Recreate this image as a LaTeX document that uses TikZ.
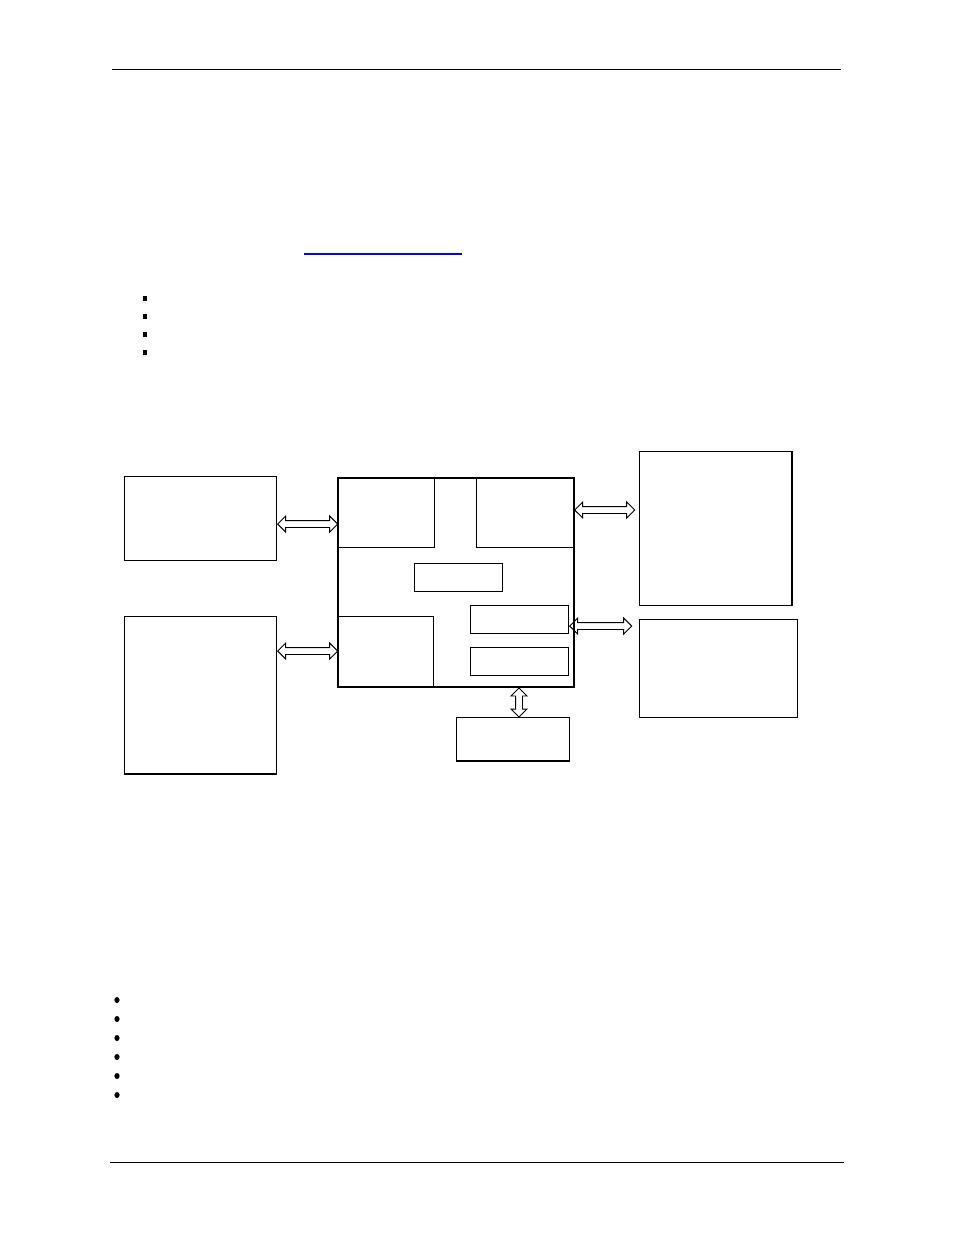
\documentclass[tikz,border=0pt]{standalone}
\usepackage{tikz}
\usetikzlibrary{shapes.arrows,calc}

\tikzset{
blk/.style={draw, line width=1pt, inner sep=0pt, anchor=north west},
dblarrow/.style={double arrow, draw, line width=0.9pt, inner xsep=0pt, inner ysep=3pt, double arrow head extend=4.5pt, minimum height=60pt}
}

\begin{document}
\begin{tikzpicture}[x=1pt,y=-1pt]
\fill[white] (0,0) rectangle (954,1235);
\useasboundingbox (0,0) rectangle (954,1235);
% page rules
\draw[line width=1pt] (112,69) -- (841,69);
\draw[line width=1pt] (110,1162) -- (844,1162);
% link and bullets
\draw[blue, line width=1.3pt] (304,254) -- (462,254);
\foreach \yy in {298,316,334,352} {\fill (143,\yy-2.5) rectangle +(4,5);}
\foreach \yy in {1000,1019,1038,1057,1076,1095} {\fill (117,\yy) ellipse (2.6 and 3);}

% outer blocks
\node[blk, minimum width=152pt, minimum height=84pt] (ltop) at (124,476) {};
\node[blk, minimum width=152pt, minimum height=157pt] (lbot) at (124,616) {};
\draw[line width=2pt] (lbot.south west) -- (lbot.south east);
\node[blk, minimum width=152pt, minimum height=154pt] (rtop) at (639,451) {};
\draw[line width=2pt] (rtop.north east) -- (rtop.south east);
\node[blk, minimum width=158pt, minimum height=98pt] (rbot) at (639,619) {};
\node[blk, minimum width=113pt, minimum height=43pt] (btm) at (456,717) {};
\draw[line width=2pt] (btm.south west) -- (btm.south east);

% central block
\node[blk, minimum width=97pt, minimum height=70pt] (portA) at (337,477) {};
\node[blk, minimum width=97pt, minimum height=70pt] (portB) at (476,477) {};
\node[blk, minimum width=96pt, minimum height=70pt] (portC) at (337,616) {};
\node[blk, minimum width=88pt, minimum height=28pt] (unit) at (414,563) {};
\node[blk, minimum width=98pt, minimum height=28pt] (regA) at (470,605) {};
\node[blk, minimum width=98pt, minimum height=28pt] (regB) at (470,647) {};
\node[blk, line width=2.2pt, minimum width=236pt, minimum height=209pt] (core) at (337,477) {};

% links
\node[dblarrow, anchor=west] (lnkA) at (ltop.east |- 0,524) {};
\node[dblarrow, anchor=west] (lnkB) at (lbot.east |- 0,651) {};
\node[dblarrow, anchor=west] (lnkC) at (574,510) {};
\node[dblarrow, anchor=west, minimum height=62pt] (lnkD) at (regA.east |- 0,626) {};
\node[dblarrow, rotate=90, minimum height=29pt] (lnkE) at (519,702.5) {};
\end{tikzpicture}
\end{document}
